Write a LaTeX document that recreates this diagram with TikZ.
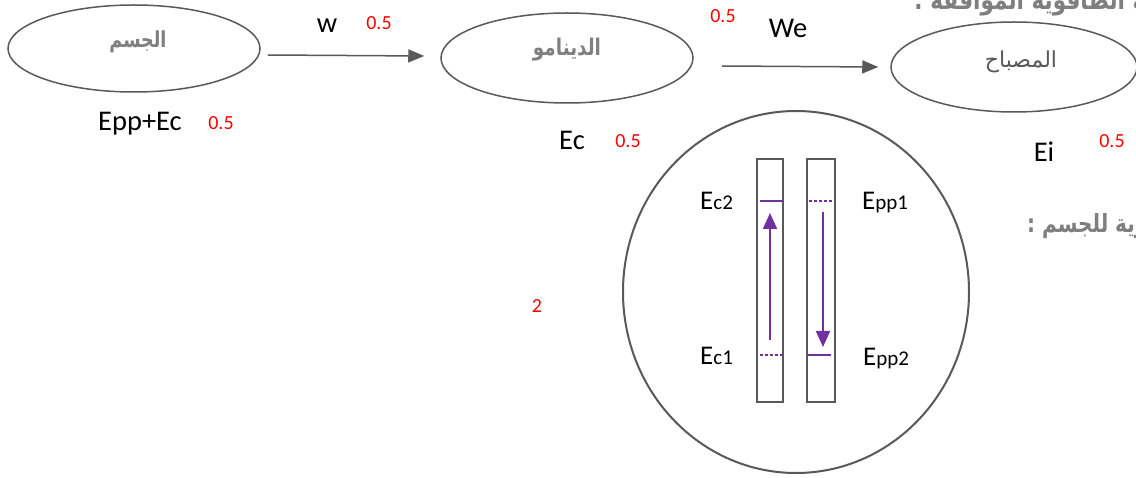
\documentclass[tikz,border=0pt]{standalone}
\usepackage{fontspec}
\setmainfont{Carlito}
\newfontfamily\arabicfont[Script=Arabic]{DejaVu Sans}
\newfontfamily\arabicnarrow[Script=Arabic,FakeStretch=0.8]{DejaVu Sans}
\TeXXeTstate=1
\usetikzlibrary{shapes.geometric,arrows.meta}
\definecolor{edge}{HTML}{595959}
\definecolor{purp}{HTML}{7030A0}
\definecolor{argray}{HTML}{7F7F7F}
\begin{document}
\begin{tikzpicture}[x=1pt,y=-1pt,
  oval/.style={ellipse, draw=edge, line width=1.5pt, inner sep=0pt},
  arr/.style={draw=edge, line width=1.5pt, -{Triangle[length=16pt,width=13pt]}},
  lbl/.style={font=\fontsize{28.5}{28.5}\selectfont, inner sep=0pt, anchor=base},
  score/.style={font=\fontsize{20}{20}\selectfont, text=red, inner sep=0pt, anchor=base},
  artext/.style={font=\fontsize{22}{22}\selectfont\arabicnarrow\bfseries, text=argray, inner sep=0pt},
  frag/.style={font=\fontsize{27}{27}\selectfont\arabicnarrow\bfseries, text=argray, inner sep=0pt, anchor=base west},
  bar/.style={draw=edge, line width=2pt, minimum width=26pt, minimum height=243pt, inner sep=0pt},
  plev/.style={draw=purp, line width=2pt},
  pdot/.style={draw=purp, line width=2pt, dash pattern=on 2.5pt off 2.5pt},
  parr/.style={draw=purp, line width=2pt, -{Triangle[length=16pt,width=14pt]}},
  sub/.style={inner sep=0pt, anchor=base west}
]
\useasboundingbox (0,0) rectangle (1136,478);
\clip (0,0) rectangle (1136,478);
\fill[white] (0,0) rectangle (1136,478);

% chain
\node[oval, minimum width=252pt, minimum height=87pt] (jism) at (134,48.5) {};
\node[oval, minimum width=252pt, minimum height=90pt] (dyn) at (567,58) {};
\node[oval, minimum width=246pt, minimum height=90pt] (lamp) at (1014,67) {};
\node[artext] (tjism) at (138,42) {\beginR الجسم\endR};
\node[artext, font=\fontsize{23}{23}\selectfont\arabicnarrow\bfseries] (tdyn) at (567,50) {\beginR الدينامو\endR};
\node[artext, font=\fontsize{22}{22}\selectfont\arabicfont, text=edge] (tlamp) at (1021,62) {\beginR المصباح\endR};

\draw[arr] ([shift={(7,6.5)}]jism.east) -- ([shift={(-16,-2)}]dyn.west);
\draw[arr] ([shift={(28,8)}]dyn.east) -- ([shift={(-12,0)}]lamp.west);

\node[lbl] (w) at (327,33) {w};
\node[score] (s1) at (379,30) {0.5};
\node[lbl] (we) at (788,38) {We};
\node[score] (s2) at (723,23) {0.5};
\node[lbl] (e1) at (140,131) {Epp+Ec};
\node[score] (s3) at (221,130) {0.5};
\node[lbl] (e2) at (572,150) {Ec};
\node[score] (s4) at (628,148) {0.5};
\node[lbl] (e3) at (1044,162) {Ei};
\node[score] (s5) at (1112,148) {0.5};
\node[score] (s6) at (537,313) {2};

% text fragments cut by the page edges
\node[frag] (title) at (914,10) {\beginR السلسلة الطاقوية الموافقة :\endR};
\node[frag, font=\fontsize{25}{25}\selectfont\arabicnarrow\bfseries] (bilan) at (1027,233) {\beginR الحصيلة الطاقوية للجسم :\endR};

% energy balance
\node[ellipse, draw=edge, line width=2pt, minimum width=346pt, minimum height=362pt, inner sep=0pt] (circ) at (796,292) {};
\node[bar] (lb) at (770,280.5) {};
\node[bar, minimum width=28pt] (rb) at (820.5,280.5) {};

\draw[plev] (760,201) -- (783,201);
\draw[pdot] (809,201) -- (832,201);
\draw[pdot] (760,355) -- (783,355);
\draw[plev] (808,355) -- (831,355);
\draw[parr] (770,340) -- (770,213);
\draw[parr] (823,212) -- (823,347);

\node[sub] (ec2) at (700,210) {\fontsize{27}{27}\selectfont E\fontsize{21}{21}\selectfont c2};
\node[sub] (epp1) at (862,210) {\fontsize{27}{27}\selectfont E\fontsize{21}{21}\selectfont pp1};
\node[sub] (ec1) at (700,365) {\fontsize{27}{27}\selectfont E\fontsize{21}{21}\selectfont c1};
\node[sub] (epp2) at (863,366) {\fontsize{27}{27}\selectfont E\fontsize{21}{21}\selectfont pp2};
\end{tikzpicture}
\end{document}
